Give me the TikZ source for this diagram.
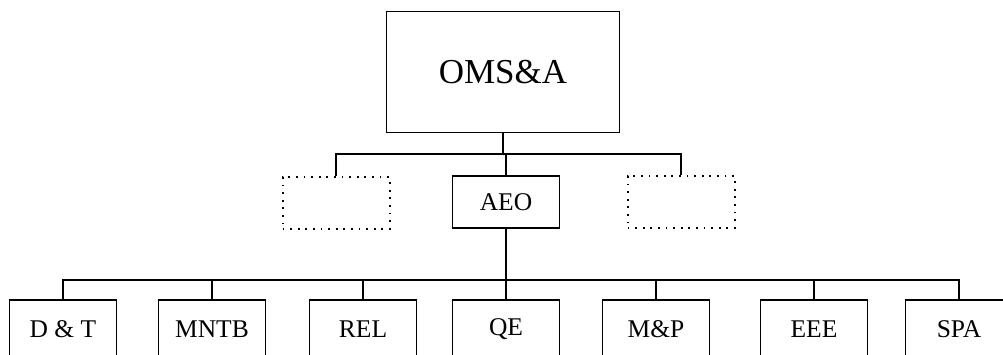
\documentclass[tikz,border=0pt]{standalone}
\usepackage{fontspec}
\setmainfont{Liberation Serif}
\usetikzlibrary{positioning,calc}

\begin{document}
\begin{tikzpicture}[
    x=1pt, y=-1pt,
    box/.style={draw, rectangle, line width=1.8pt, inner sep=0pt, minimum width=107pt, minimum height=52pt, font=\fontsize{25.5}{28}\selectfont},
    ghost/.style={box, line width=2pt, dash pattern=on 1.8pt off 5.8pt},
    unit/.style={box, minimum height=58pt},
    wire/.style={line width=1.8pt}
]
    \useasboundingbox (0,0) rectangle (1003,354);
    \clip (0,0) rectangle (1003,354);

    % Office at the top
    \node[box, minimum width=233pt, minimum height=121pt, font=\fontsize{35}{40}\selectfont] (oms) at (503,72) {OMS\&A};

    % Second level
    \node[ghost] (leftghost) at (336,203) {};
    \node[box] (aeo) at (506,202) {AEO};
    \node[ghost] (rightghost) at (681,202) {};

    \coordinate (upper bus) at (oms.south |- 0,154);
    \draw[wire] (oms.south) -- (upper bus);
    \draw[wire] (leftghost.north) |- (upper bus) -| (rightghost.north);
    \draw[wire] (upper bus -| aeo.north) -- (aeo.north);

    % Branches
    \foreach \name/\x/\txt in {dt/63/{D \& T}, mntb/212/MNTB, rel/363/REL, qe/506/QE,
                               mp/656/M\&P, eee/814/EEE, spa/959/SPA} {
        \node[unit] (\name) at (\x,329) {\txt};
    }

    \coordinate (lower bus) at (aeo.south |- 0,280);
    \draw[wire] (aeo.south) -- (lower bus);
    \draw[wire] (dt.north) |- (lower bus) -| (spa.north);
    \foreach \name in {mntb,rel,qe,mp,eee} {
        \draw[wire] (\name.north) -- (\name.north |- lower bus);
    }
\end{tikzpicture}
\end{document}
